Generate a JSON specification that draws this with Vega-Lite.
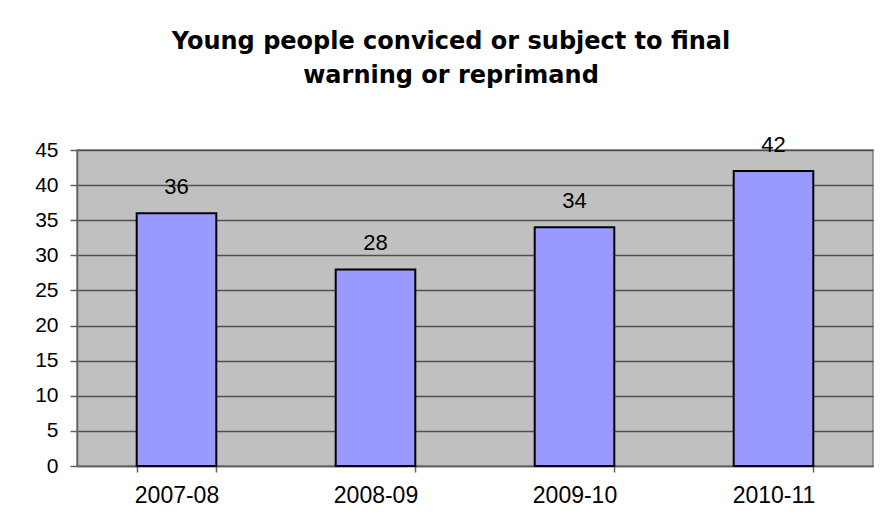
{
  "$schema": "https://vega.github.io/schema/vega-lite/v6.json",
  "autosize": {"type": "none"},
  "padding": {"left": 77, "top": 150, "right": 9, "bottom": 63},
  "width": 796,
  "height": 316,
  "background": "white",
  "title": {
    "text": ["Young people conviced or subject to final", "warning or reprimand"],
    "font": "DejaVu Sans",
    "fontSize": 24,
    "fontWeight": "bold",
    "color": "black",
    "lineHeight": 34,
    "anchor": "middle",
    "dx": -24,
    "offset": 46
  },
  "data": {
    "values": [
      {"year": "2007-08", "value": 36},
      {"year": "2008-09", "value": 28},
      {"year": "2009-10", "value": 34},
      {"year": "2010-11", "value": 42}
    ]
  },
  "config": {
    "view": {"fill": "#C0C0C0", "stroke": "#808080", "strokeWidth": 1.5},
    "axis": {
      "labelFont": "Liberation Sans",
      "labelColor": "black",
      "domainColor": "#606060",
      "domainWidth": 1.5,
      "tickColor": "#606060",
      "tickWidth": 1.5,
      "gridColor": "#505050",
      "gridWidth": 1.3,
      "gridOpacity": 1,
      "title": null
    }
  },
  "encoding": {
    "x": {
      "field": "year",
      "type": "nominal",
      "sort": null,
      "scale": {"paddingInner": 0.6, "paddingOuter": 0.3},
      "axis": {
        "labelAngle": 0,
        "labelFontSize": 23,
        "tickSize": 6,
        "tickBand": "extent",
        "labelPadding": 12,
        "grid": false,
        "title": null
      }
    },
    "y": {
      "field": "value",
      "type": "quantitative",
      "scale": {"domain": [0, 45], "nice": false},
      "axis": {
        "values": [0, 5, 10, 15, 20, 25, 30, 35, 40, 45],
        "labelFontSize": 21,
        "tickSize": 7,
        "labelPadding": 12,
        "grid": true,
        "title": null
      }
    }
  },
  "layer": [
    {
      "mark": {"type": "bar", "fill": "#9999FF", "stroke": "black", "strokeWidth": 2}
    },
    {
      "mark": {
        "type": "text",
        "font": "Liberation Sans",
        "fontSize": 22,
        "color": "black",
        "baseline": "alphabetic",
        "dy": -19
      },
      "encoding": {"text": {"field": "value", "type": "quantitative"}}
    }
  ]
}
